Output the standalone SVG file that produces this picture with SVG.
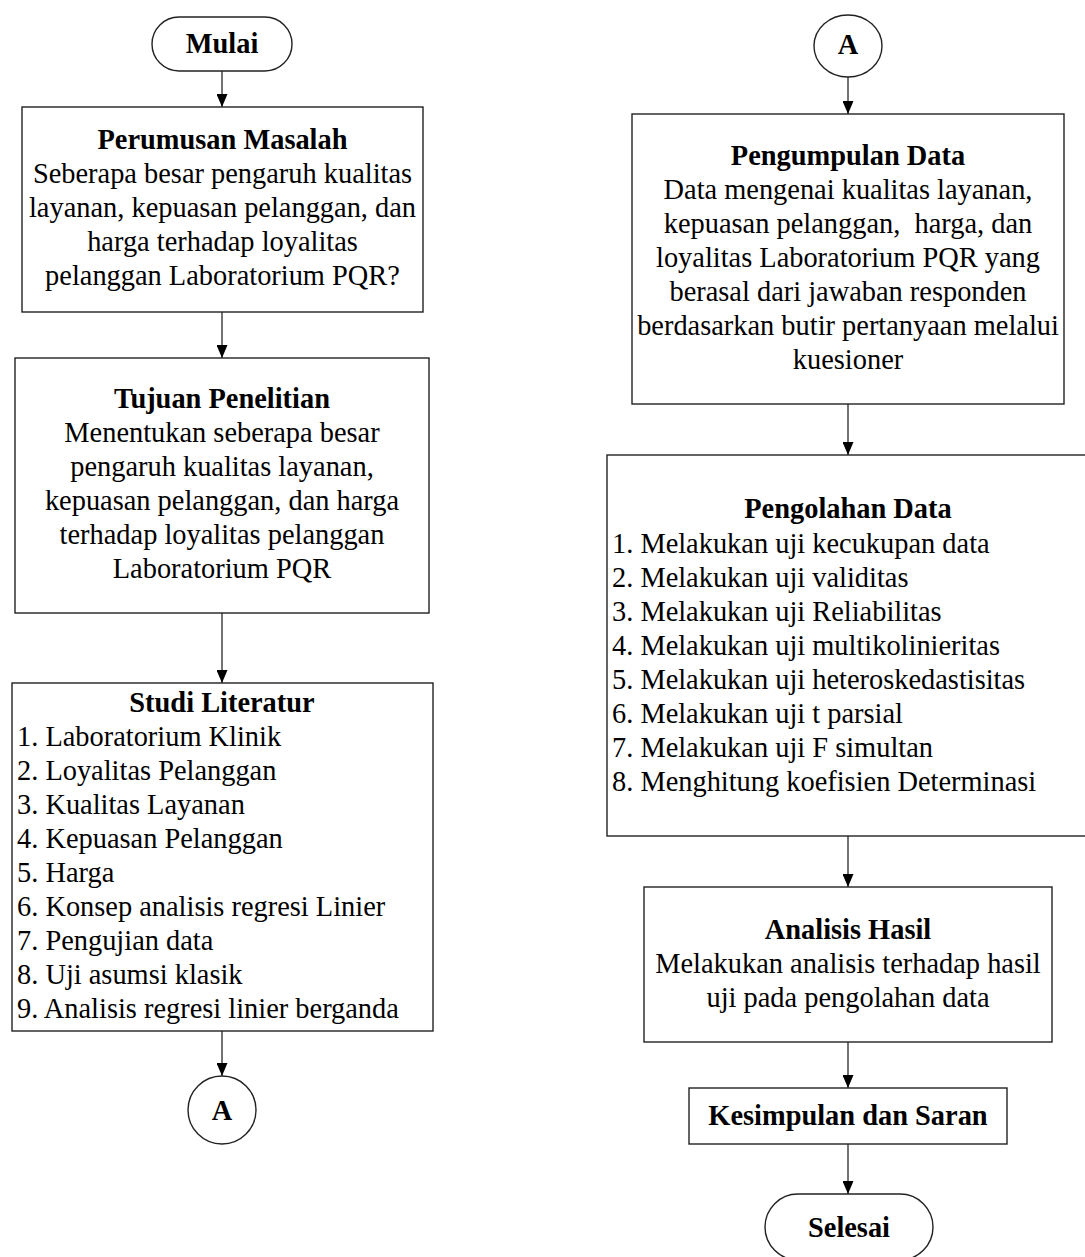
<svg xmlns="http://www.w3.org/2000/svg" width="1085" height="1257" viewBox="0 0 1085 1257">
  <defs>
    <marker id="arrow" markerUnits="userSpaceOnUse" markerWidth="13" markerHeight="11" refX="13" refY="5.5" orient="auto">
      <path d="M0,0 L13,5.5 L0,11 z" fill="#000"/>
    </marker>
    <style>
      .box { fill: #fff; stroke: #222; stroke-width: 1.4; }
      .t { font-family: "Liberation Serif", "Times New Roman", serif; font-size: 28.4px; fill: #000; }
      .b { font-weight: bold; }
      .c { text-anchor: middle; }
      .conn { stroke: #444; stroke-width: 1.5; fill: none; marker-end: url(#arrow); }
    </style>
  </defs>

  <rect width="1085" height="1257" fill="#fff"/>

  <!-- connectors -->
  <g id="connectors">
    <line class="conn" x1="222" y1="71" x2="222" y2="107"/>
    <line class="conn" x1="222" y1="312" x2="222" y2="358"/>
    <line class="conn" x1="222" y1="613" x2="222" y2="683"/>
    <line class="conn" x1="222" y1="1031" x2="222" y2="1076"/>
    <line class="conn" x1="848" y1="77" x2="848" y2="114"/>
    <line class="conn" x1="848" y1="404" x2="848" y2="455"/>
    <line class="conn" x1="848" y1="836" x2="848" y2="887"/>
    <line class="conn" x1="848" y1="1042" x2="848" y2="1088"/>
    <line class="conn" x1="848" y1="1144" x2="848" y2="1194"/>
  </g>

  <!-- left column -->
  <g id="mulai">
    <rect class="box" x="152" y="17" width="140" height="54" rx="27" ry="27"/>
    <text class="t b c" x="222" y="53">Mulai</text>
  </g>

  <g id="perumusan-masalah">
    <rect class="box" x="22" y="107" width="401" height="205"/>
    <text class="t b c" x="222.5" y="149">Perumusan Masalah</text>
    <text class="t c" x="222.5" y="183">Seberapa besar pengaruh kualitas</text>
    <text class="t c" x="222.5" y="217">layanan, kepuasan pelanggan, dan</text>
    <text class="t c" x="222.5" y="251">harga terhadap loyalitas</text>
    <text class="t c" x="222.5" y="285">pelanggan Laboratorium PQR?</text>
  </g>

  <g id="tujuan-penelitian">
    <rect class="box" x="15" y="358" width="414" height="255"/>
    <text class="t b c" x="222" y="408">Tujuan Penelitian</text>
    <text class="t c" x="222" y="442">Menentukan seberapa besar</text>
    <text class="t c" x="222" y="476">pengaruh kualitas layanan,</text>
    <text class="t c" x="222" y="510">kepuasan pelanggan, dan harga</text>
    <text class="t c" x="222" y="544">terhadap loyalitas pelanggan</text>
    <text class="t c" x="222" y="578">Laboratorium PQR</text>
  </g>

  <g id="studi-literatur">
    <rect class="box" x="12" y="683" width="421" height="348"/>
    <text class="t b c" x="222" y="712">Studi Literatur</text>
    <text class="t" x="17" y="746">1. Laboratorium Klinik</text>
    <text class="t" x="17" y="780">2. Loyalitas Pelanggan</text>
    <text class="t" x="17" y="814">3. Kualitas Layanan</text>
    <text class="t" x="17" y="848">4. Kepuasan Pelanggan</text>
    <text class="t" x="17" y="882">5. Harga</text>
    <text class="t" x="17" y="916">6. Konsep analisis regresi Linier</text>
    <text class="t" x="17" y="950">7. Pengujian data</text>
    <text class="t" x="17" y="984">8. Uji asumsi klasik</text>
    <text class="t" x="17" y="1018">9. Analisis regresi linier berganda</text>
  </g>

  <g id="konektor-a-keluar">
    <circle class="box" cx="222" cy="1110" r="34"/>
    <text class="t b c" x="222" y="1120">A</text>
  </g>

  <!-- right column -->
  <g id="konektor-a-masuk">
    <ellipse class="box" cx="848" cy="46" rx="34" ry="31"/>
    <text class="t b c" x="848" y="54">A</text>
  </g>

  <g id="pengumpulan-data">
    <rect class="box" x="632" y="114" width="432" height="290"/>
    <text class="t b c" x="848" y="165">Pengumpulan Data</text>
    <text class="t c" x="848" y="199">Data mengenai kualitas layanan,</text>
    <text class="t c" x="848" y="233" xml:space="preserve">kepuasan pelanggan,  harga, dan</text>
    <text class="t c" x="848" y="267">loyalitas Laboratorium PQR yang</text>
    <text class="t c" x="848" y="301">berasal dari jawaban responden</text>
    <text class="t c" x="848" y="335">berdasarkan butir pertanyaan melalui</text>
    <text class="t c" x="848" y="369">kuesioner</text>
  </g>

  <g id="pengolahan-data">
    <rect class="box" x="607" y="455" width="481" height="381"/>
    <text class="t b c" x="848" y="518">Pengolahan Data</text>
    <text class="t" x="612" y="553">1. Melakukan uji kecukupan data</text>
    <text class="t" x="612" y="587">2. Melakukan uji validitas</text>
    <text class="t" x="612" y="621">3. Melakukan uji Reliabilitas</text>
    <text class="t" x="612" y="655">4. Melakukan uji multikolinieritas</text>
    <text class="t" x="612" y="689">5. Melakukan uji heteroskedastisitas</text>
    <text class="t" x="612" y="723">6. Melakukan uji t parsial</text>
    <text class="t" x="612" y="757">7. Melakukan uji F simultan</text>
    <text class="t" x="612" y="791">8. Menghitung koefisien Determinasi</text>
  </g>

  <g id="analisis-hasil">
    <rect class="box" x="644" y="887" width="408" height="155"/>
    <text class="t b c" x="848" y="939">Analisis Hasil</text>
    <text class="t c" x="848" y="973">Melakukan analisis terhadap hasil</text>
    <text class="t c" x="848" y="1007">uji pada pengolahan data</text>
  </g>

  <g id="kesimpulan-saran">
    <rect class="box" x="689" y="1088" width="318" height="56"/>
    <text class="t b c" x="848" y="1125">Kesimpulan dan Saran</text>
  </g>

  <g id="selesai">
    <rect class="box" x="765" y="1194" width="168" height="66" rx="33" ry="33"/>
    <text class="t b c" x="849" y="1237">Selesai</text>
  </g>
</svg>
